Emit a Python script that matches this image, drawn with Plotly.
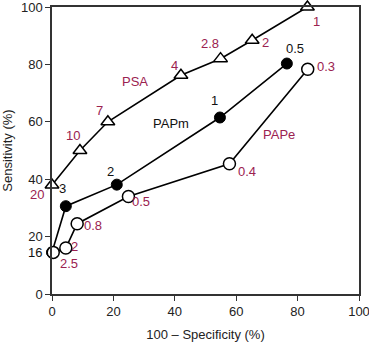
import plotly.graph_objects as go

# PSA (open triangles)
psa_x = [0, 9.1, 18.2, 42, 54.9, 65.2, 83.2]
psa_y = [38, 50, 60, 76.2, 82, 88.4, 100]
# PAPm (filled circles); first point shared with PAPe origin
papm_x = [0, 4.5, 21.1, 54.7, 76.5]
papm_y = [14.5, 30.6, 38.1, 61.5, 80.3]
# PAPe (open circles)
pape_x = [0.4, 4.5, 8.2, 24.9, 57.8, 83.3]
pape_y = [14.5, 16, 24.5, 34, 45.4, 78.3]

# cutoff labels (positions in axis units, 0-100)
psa_lbl = ["1", "2", "2.8", "4", "7", "10", "20", "PSA"]
psa_lbl_x = [86.2, 69.5, 51.5, 39.8, 15.5, 6.7, -5, 26.9]
psa_lbl_y = [95.1, 87.8, 87.2, 79.7, 64, 55.3, 34.7, 74.1]

papm_lbl = ["0.5", "1", "2", "3", "16", "PAPm"]
papm_lbl_x = [79.2, 53, 19, 3.3, -5.5, 38.7]
papm_lbl_y = [85.5, 67.5, 42.7, 36.9, 14.6, 59.4]

pape_lbl = ["0.3", "0.4", "0.5", "0.8", "2", "2.5", "PAPe"]
pape_lbl_x = [89.4, 63.5, 29, 13.4, 7.2, 5.6, 73.8]
pape_lbl_y = [79.1, 42.6, 32.3, 23.9, 16.6, 10.6, 55.6]

ticks = [0, 20, 40, 60, 80, 100]
AX_MIN, AX_MAX = 0, 100

RED = "#9b2250"
FONT = "Liberation Sans, Arial, sans-serif"

fig = go.Figure()
fig.add_trace(go.Scatter(
    x=psa_x, y=psa_y, mode="lines+markers", cliponaxis=False,
    line=dict(color="black", width=1.6),
    marker=dict(symbol="triangle-up", size=12, color="white",
                line=dict(color="black", width=1.5))))
fig.add_trace(go.Scatter(
    x=papm_x, y=papm_y, mode="lines+markers", cliponaxis=False,
    line=dict(color="black", width=1.6),
    marker=dict(symbol="circle", size=11, color="black",
                line=dict(color="black", width=1))))
fig.add_trace(go.Scatter(
    x=pape_x, y=pape_y, mode="lines+markers", cliponaxis=False,
    line=dict(color="black", width=1.6),
    marker=dict(symbol="circle", size=12, color="white",
                line=dict(color="black", width=1.5))))


def to_paper(v):
    return (v - AX_MIN) / (AX_MAX - AX_MIN)


anns = []
for lbls, xs, ys, col in [(psa_lbl, psa_lbl_x, psa_lbl_y, RED),
                          (papm_lbl, papm_lbl_x, papm_lbl_y, "#111111"),
                          (pape_lbl, pape_lbl_x, pape_lbl_y, RED)]:
    for t, x, y in zip(lbls, xs, ys):
        anns.append(dict(x=to_paper(x), y=to_paper(y), xref="paper", yref="paper",
                         xanchor="center", yanchor="middle",
                         text=t, showarrow=False,
                         font=dict(color=col, size=13, family=FONT)))

fig.update_layout(
    width=369, height=342,
    margin=dict(l=52, r=10, t=7, b=48),
    paper_bgcolor="white", plot_bgcolor="white",
    showlegend=False,
    font=dict(family=FONT, size=13, color="#222222"),
    annotations=anns,
    xaxis=dict(range=[AX_MIN, AX_MAX], tickvals=ticks, ticks="outside", ticklen=5,
               tickcolor="#333", showgrid=False, zeroline=False, automargin=False,
               ticklabeloverflow="allow",
               showline=True, linecolor="#333", linewidth=1.5, mirror=True,
               tickfont=dict(size=13),
               title=dict(text="100 – Specificity (%)", standoff=16,
                          font=dict(size=13))),
    yaxis=dict(range=[AX_MIN, AX_MAX], tickvals=ticks, ticks="outside", ticklen=5,
               tickcolor="#333", showgrid=False, zeroline=False, automargin=False,
               ticklabeloverflow="allow",
               showline=True, linecolor="#333", linewidth=1.5, mirror=True,
               tickfont=dict(size=13),
               title=dict(text="Sensitivity (%)", standoff=5,
                          font=dict(size=13))),
)

fig.write_html("out.html")
